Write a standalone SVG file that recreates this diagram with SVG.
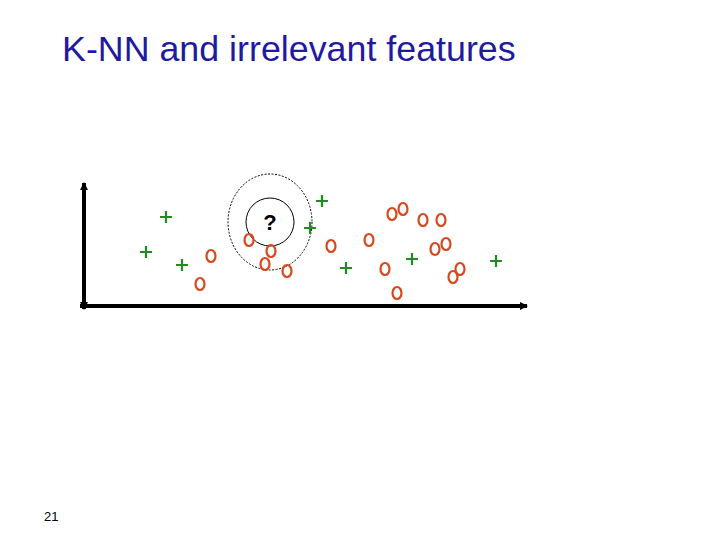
<svg xmlns="http://www.w3.org/2000/svg" width="720" height="540" viewBox="0 0 720 540">
<style>
.t{font-family:"Liberation Sans",Arial,sans-serif}
.p{stroke:#238a23;stroke-width:2.2;fill:none}
.o{stroke:#d9481c;stroke-width:2.2;fill:none}
</style>
<defs><marker id="a" markerWidth="8" markerHeight="8" refX="7" refY="4" orient="auto" markerUnits="userSpaceOnUse"><path d="M0,0L8,4L0,8z" fill="#000"/></marker>
<path id="pl" d="M-6,0H6M0,-6V6" class="p"/>
<ellipse id="ci" rx="4.5" ry="6" class="o"/></defs>
<rect width="720" height="540" fill="#fff"/>
<text x="62" y="61" font-size="35.8" fill="#1f1aa0" class="t">K-NN and irrelevant features</text>
<text x="44" y="521" font-size="13" class="t">21</text>
<g id="axes" stroke="#000" stroke-width="4">
<line x1="84" y1="306" x2="84" y2="183" marker-end="url(#a)"/>
<line x1="84" y1="300" x2="84" y2="309" marker-end="url(#a)"/>
<line x1="80" y1="306" x2="527" y2="306" marker-end="url(#a)"/>
</g>
<g id="circles" fill="none" stroke="#000" stroke-width="1">
<circle cx="270" cy="222" r="24"/>
<ellipse cx="270" cy="222" rx="42" ry="48" stroke-dasharray="2,1.5"/>
</g>
<text x="270" y="230" font-size="22" font-weight="bold" text-anchor="middle" class="t">?</text>
<g id="plus">
<use href="#pl" x="166" y="217"/><use href="#pl" x="146" y="252"/><use href="#pl" x="182" y="265"/>
<use href="#pl" x="322" y="201"/><use href="#pl" x="310" y="228"/><use href="#pl" x="346" y="268"/>
<use href="#pl" x="412" y="259"/><use href="#pl" x="496" y="261"/>
</g>
<g id="os">
<use href="#ci" x="211" y="256"/><use href="#ci" x="200" y="284"/><use href="#ci" x="249" y="240"/>
<use href="#ci" x="271" y="251"/><use href="#ci" x="265" y="264"/><use href="#ci" x="287" y="271"/>
<use href="#ci" x="331" y="246"/><use href="#ci" x="369" y="240"/><use href="#ci" x="392" y="214"/>
<use href="#ci" x="403" y="209"/><use href="#ci" x="423" y="220"/><use href="#ci" x="441" y="220"/>
<use href="#ci" x="435" y="249"/><use href="#ci" x="446" y="244"/><use href="#ci" x="460" y="269"/>
<use href="#ci" x="453" y="277"/><use href="#ci" x="385" y="269"/><use href="#ci" x="397" y="293"/>
</g>
</svg>
